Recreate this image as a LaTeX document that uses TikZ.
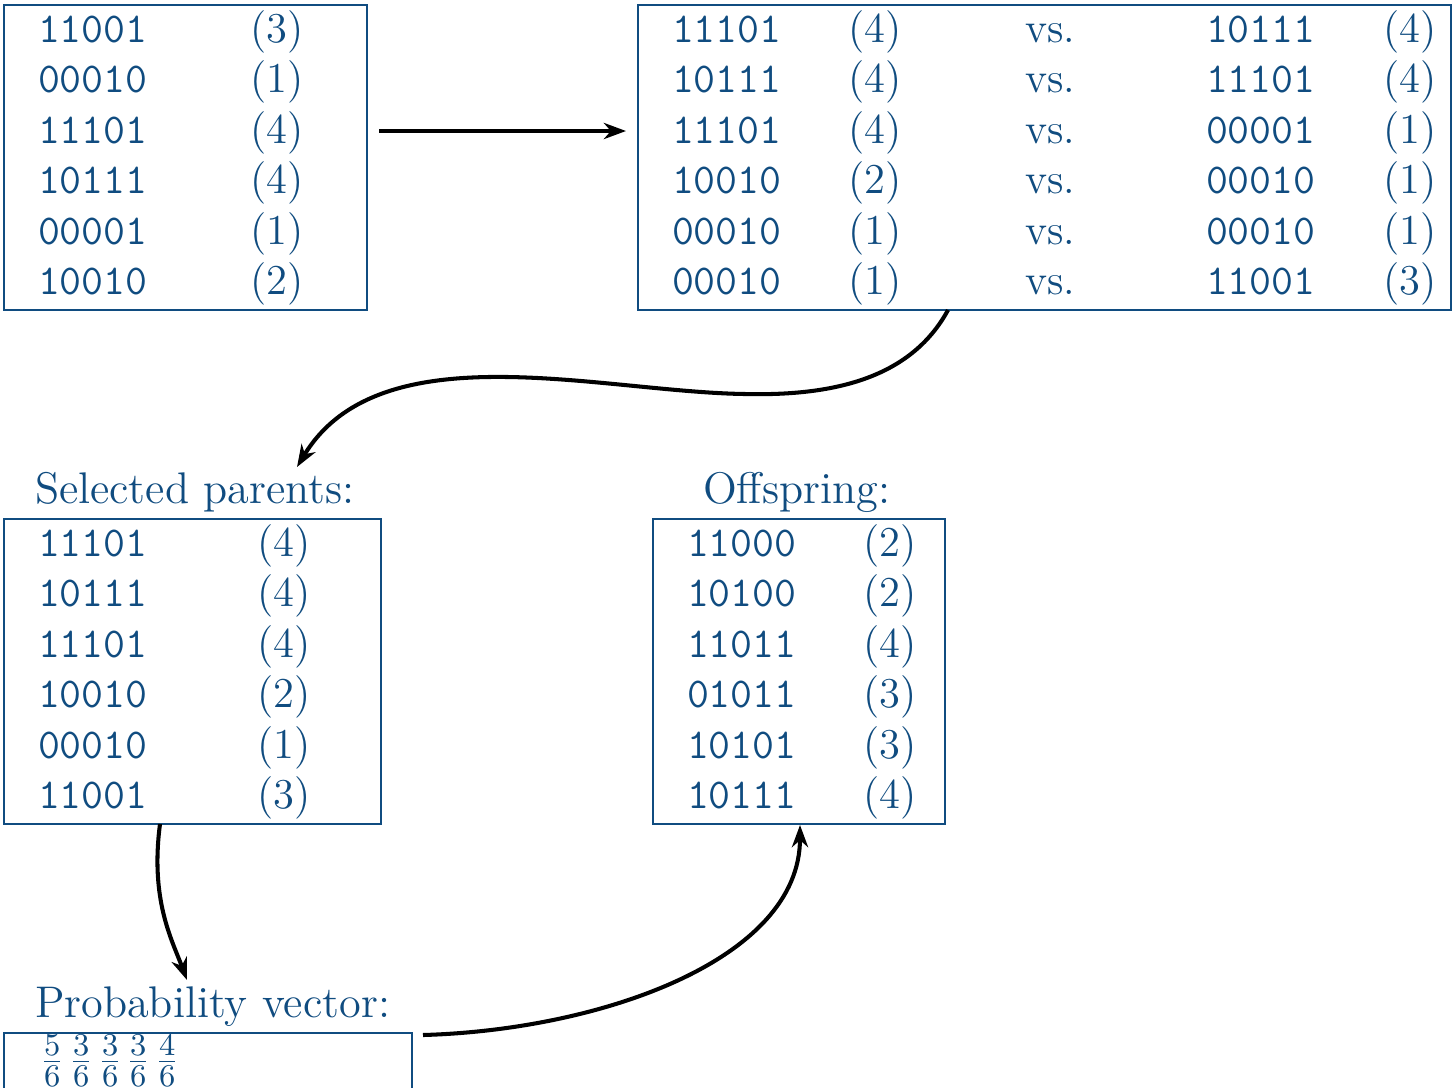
\documentclass[tikz,border=0pt]{standalone}
\usetikzlibrary{arrows.meta,fit}
\definecolor{sb}{RGB}{16,76,128}
\begin{document}
\begin{tikzpicture}[x=0.01cm,y=-0.01cm,
  box/.style={draw=sb, line width=0.55pt, inner sep=0pt, outer sep=0pt},
  txt/.style={anchor=base west, inner sep=0pt, outer sep=0pt, text=sb, font=\fontsize{12.1}{14}\selectfont},
  title/.style={txt, font=\fontsize{12.6}{14}\selectfont},
  bits/.style={txt, font=\fontsize{12.1}{14}\selectfont\ttfamily},
  conn/.style={line width=1.15pt, -{Stealth[length=6.3pt,width=4.6pt,inset=2pt]}}]
\useasboundingbox (0,0) rectangle (1452,1087);
\clip (0,0) rectangle (1452,1087);
% boxes
\node[box, fit={(4,5) (367,310)}] (pop) {};
\node[box, fit={(638,5) (1451,310)}] (tour) {};
\node[box, fit={(4,519) (381,824)}] (par) {};
\node[box, fit={(653,519) (945,824)}] (off) {};
\node[box, fit={(4,1033) (412,1200)}] (prob) {};
% titles
\node[title] (tpop) at (35,-10) {Old population:};
\node[title] (tpar) at (35,503) {Selected parents:};
\node[title] (toff) at (703,503) {Offspring:};
\node[title] (tprob) at (35,1017) {Probability vector:};
% initial population
\foreach \b/\f [count=\i from 0] in {11001/3,00010/1,11101/4,10111/4,00001/1,10010/2}{
  \node[bits] (pb\i) at (38,42+50.5*\i) {\b};
  \node[txt] (pf\i) at (250,42+50.5*\i) {(\f)};
}
% tournaments
\foreach \b/\f/\c/\g [count=\i from 0] in {11101/4/10111/4,10111/4/11101/4,11101/4/00001/1,10010/2/00010/1,00010/1/00010/1,00010/1/11001/3}{
  \node[bits] (ta\i) at (672,42+50.5*\i) {\b};
  \node[txt] (tf\i) at (848,42+50.5*\i) {(\f)};
  \node[txt] (tv\i) at (1025,42+50.5*\i) {vs.};
  \node[bits] (tc\i) at (1206,42+50.5*\i) {\c};
  \node[txt] (tg\i) at (1383,42+50.5*\i) {(\g)};
}
% selected parents
\foreach \b/\f [count=\i from 0] in {11101/4,10111/4,11101/4,10010/2,00010/1,11001/3}{
  \node[bits] (sb\i) at (38,556+50.5*\i) {\b};
  \node[txt] (sf\i) at (257,556+50.5*\i) {(\f)};
}
% offspring
\foreach \b/\f [count=\i from 0] in {11000/2,10100/2,11011/4,01011/3,10101/3,10111/4}{
  \node[bits] (ob\i) at (687,556+50.5*\i) {\b};
  \node[txt] (of\i) at (863,556+50.5*\i) {(\f)};
}
% probability vector
\foreach \n/\x [count=\i from 0] in {5/40,3/69,3/98,3/126,4/155}{
  \node[title] (pv\i) at (\x,1072) {$\frac{\n}{6}$};
}
% connectors
\coordinate (a1s) at (379,131);
\coordinate (a1e) at (626,131);
\coordinate (a2s) at (948,310);
\coordinate (a2m) at (745,394);
\coordinate (a2e) at (297,467);
\coordinate (a3s) at (160,824);
\coordinate (a3e) at (187,980);
\coordinate (a4s) at (423,1035);
\coordinate (a4e) at (800,825);
\draw[conn] (a1s) -- (a1e);
\draw[conn] (a2s) .. controls (910,380) and (830,396) .. (a2m)
  .. controls (600,392) and (380,330) .. (a2e);
\draw[conn] (a3s) .. controls (150,900) and (172,940) .. (a3e);
\draw[conn] (a4s) .. controls (600,1030) and (800,960) .. (a4e);
\end{tikzpicture}
\end{document}
